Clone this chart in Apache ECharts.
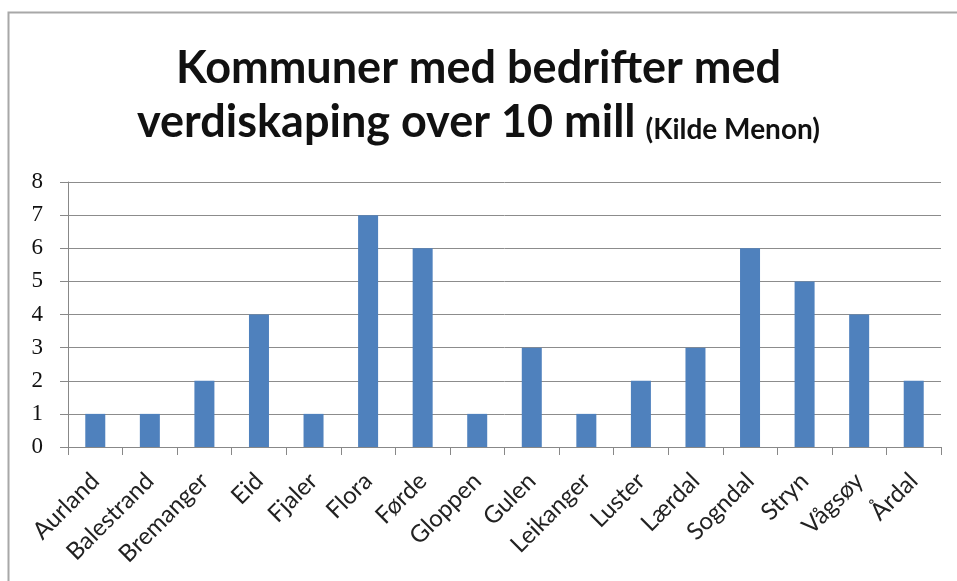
<!DOCTYPE html>
<html>
<head>
<meta charset="utf-8">
<script src="https://cdn.jsdelivr.net/npm/echarts@6/dist/echarts.min.js"></script>
<style>
  html, body { margin: 0; padding: 0; background: #fff; }
  #chart { width: 957px; height: 581px; }
</style>
</head>
<body>
<div id="chart"></div>
<script>
// kommuner og antall bedrifter
const kommuner = ['Aurland', 'Balestrand', 'Bremanger', 'Eid', 'Fjaler', 'Flora', 'Førde', 'Gloppen',
  'Gulen', 'Leikanger', 'Luster', 'Lærdal', 'Sogndal', 'Stryn', 'Vågsøy', 'Årdal'];
const antall = [1, 1, 2, 4, 1, 7, 6, 1, 3, 1, 2, 3, 6, 5, 4, 2];
const yTicks = [0, 1, 2, 3, 4, 5, 6, 7, 8];

const font = 'Lato, "Open Sans", sans-serif';
const chart = echarts.init(document.getElementById('chart'));

chart.setOption({
  animation: false,
  graphic: [{
    type: 'rect',
    shape: { x: 8.5, y: 12.5, width: 1000, height: 700 },
    style: { fill: 'none', stroke: '#a8a8a8', lineWidth: 2 }
  }],
  title: {
    left: 'center',
    top: 36,
    text: '{a|Kommuner med bedrifter med}\n{a|verdiskaping over 10 mill}  {b|(Kilde Menon)}',
    textStyle: {
      rich: {
        a: { fontFamily: font, fontWeight: 'bold', fontSize: 45, color: '#111', lineHeight: 54 },
        b: { fontFamily: font, fontWeight: 'bold', fontSize: 28, color: '#111', lineHeight: 54, verticalAlign: 'bottom', padding: [0, 0, 5, 0] }
      }
    }
  },
  grid: { left: 68, right: 16, top: 182, bottom: 134 },
  xAxis: {
    type: 'category',
    data: kommuner,
    axisLine: { lineStyle: { color: '#888', width: 1 } },
    axisTick: { show: true, length: 8, lineStyle: { color: '#888' } },
    axisLabel: { rotate: 45, margin: 30, fontFamily: font, fontSize: 24, color: '#222' }
  },
  yAxis: {
    type: 'value',
    min: yTicks[0],
    max: yTicks[yTicks.length - 1],
    interval: 1,
    axisLine: { show: true, lineStyle: { color: '#888', width: 1 } },
    axisTick: { show: true, length: 8, lineStyle: { color: '#888' } },
    axisLabel: { margin: 25, fontFamily: '"Liberation Serif", serif', fontSize: 23, color: '#111' },
    splitLine: { lineStyle: { color: '#8c8c8c', width: 1 } }
  },
  series: [{
    type: 'bar',
    data: antall,
    barWidth: 20,
    itemStyle: { color: '#4f81bd' }
  }]
});
</script>
</body>
</html>
